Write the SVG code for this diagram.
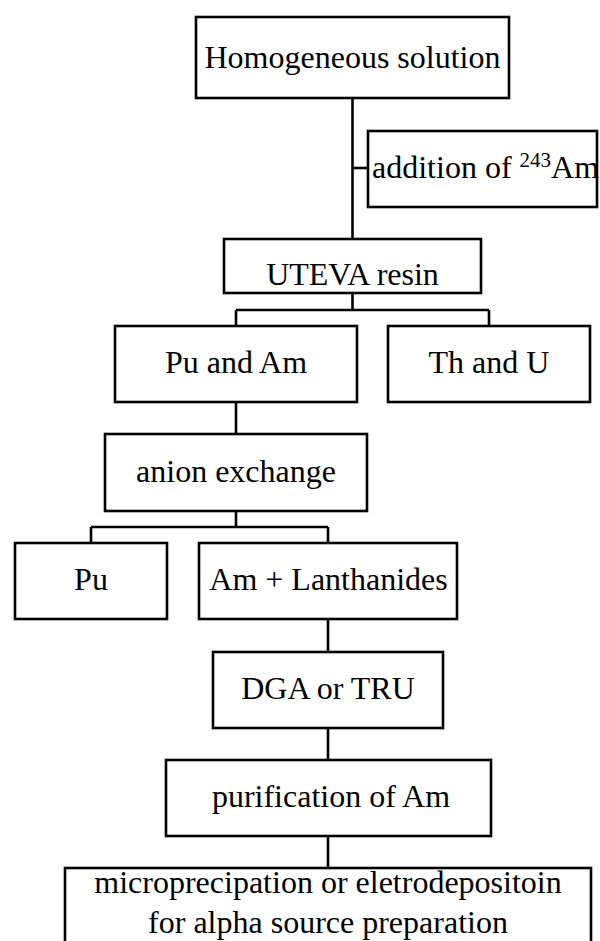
<svg xmlns="http://www.w3.org/2000/svg" width="600" height="941" viewBox="0 0 600 941">
<style>
.box{fill:#fff;stroke:#000;stroke-width:2.6}
.ln{fill:none;stroke:#000;stroke-width:2.6}
text{font-family:'Liberation Serif','Times New Roman','DejaVu Serif',serif;font-size:32px;fill:#000;text-anchor:middle}
.sup{font-size:21px}
</style>
<rect width="600" height="941" fill="#fff"/>
<g id="connectors">
<path class="ln" d="M352.5 98V239"/>
<path class="ln" d="M352.5 168H368"/>
<path class="ln" d="M352.5 293V310M236 310H489M236 310V326M489 310V326"/>
<path class="ln" d="M236 402V434"/>
<path class="ln" d="M236 511V527M91 527H328M91 527V543M328 527V543"/>
<path class="ln" d="M328 619V652"/>
<path class="ln" d="M328 728V760"/>
<path class="ln" d="M328 836V868"/>
</g>
<g font-family="Liberation Serif, Times New Roman, serif">
<g id="homogeneous"><rect class="box" x="196" y="17" width="313" height="81"/><text x="352.5" y="68">Homogeneous solution</text></g>
<g id="addition"><rect class="box" x="368" y="131" width="229" height="76"/><text x="372" y="178" style="text-anchor:start">addition of <tspan class="sup" dy="-11">243</tspan><tspan dy="11">Am</tspan></text></g>
<g id="uteva"><rect class="box" x="224" y="239" width="257" height="54"/><text x="352.5" y="285">UTEVA resin</text></g>
<g id="puam"><rect class="box" x="115" y="326" width="242" height="76"/><text x="236" y="373">Pu and Am</text></g>
<g id="thu"><rect class="box" x="388" y="326" width="202" height="76"/><text x="489" y="373">Th and U</text></g>
<g id="anion"><rect class="box" x="105" y="434" width="262" height="77"/><text x="236" y="482">anion exchange</text></g>
<g id="pu"><rect class="box" x="15" y="543" width="152" height="76"/><text x="91" y="590">Pu</text></g>
<g id="amlan"><rect class="box" x="199" y="543" width="258" height="76"/><text x="328.5" y="590">Am + Lanthanides</text></g>
<g id="dga"><rect class="box" x="213" y="652" width="230" height="76"/><text x="328" y="699">DGA or TRU</text></g>
<g id="purif"><rect class="box" x="166" y="760" width="325" height="76"/><text x="331" y="807">purification of Am</text></g>
<g id="micro"><rect class="box" x="65" y="868" width="526" height="90"/><text x="328" y="893">microprecipation or eletrodepositoin</text><text x="328" y="933">for alpha source preparation</text></g>
</g>
</svg>
